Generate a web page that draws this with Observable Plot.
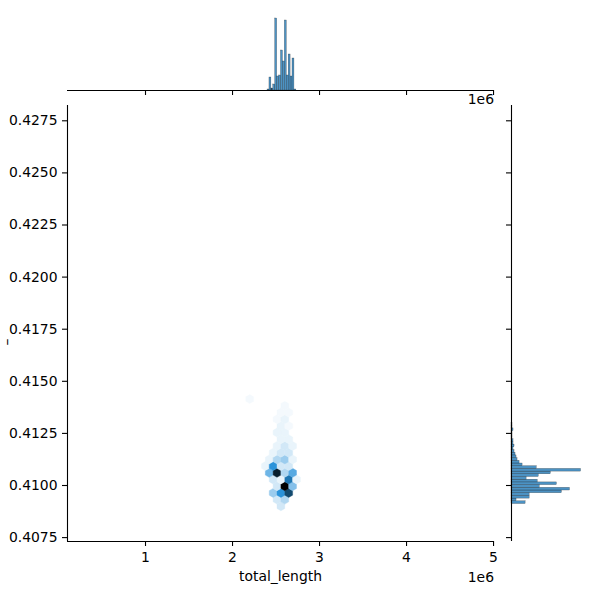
<!DOCTYPE html>
<html>
<head>
<meta charset="utf-8">
<script src="https://cdn.jsdelivr.net/npm/d3@7"></script>
<script src="https://cdn.jsdelivr.net/npm/@observablehq/plot@0.6"></script>
<style>
  html, body { margin: 0; padding: 0; background: white; }
  #chart { position: relative; width: 600px; height: 600px; font-family: "DejaVu Sans", sans-serif; color: black; }
  #chart svg { position: absolute; background: transparent; max-width: none; }
</style>
</head>
<body>
<div id="chart"></div>
<script>
// ---- axis limits and ticks ----
const xLimits = [103400, 5011000];
const yLimits = [0.407313, 0.428234];
const xTicks = [1e6, 2e6, 3e6, 4e6, 5e6];
const yTicks = [0.4075, 0.4100, 0.4125, 0.4150, 0.4175, 0.4200, 0.4225, 0.4250, 0.4275];
const xLabel = "total_length";
const yLabel = "–";
const offsetLabel = "1e6";

// ---- hexbin cells (centre x, centre y, count) ----
const hexX = [
  2556300,
  2511500, 2601100,
  2466700, 2556300, 2646000,
  2511500, 2601100, 2690800,
  2466700, 2556300, 2646000, 2735600,
  2421800, 2511500, 2601100, 2690800,
  2377000, 2466700, 2556300, 2646000,
  2421800, 2511500, 2601100, 2690800,
  2466700, 2556300, 2646000,
  2511500, 2601100, 2690800,
  2556300, 2646000,
  2511500, 2601100,
  2556300, 2646000,
  2511500, 2601100,
  2556300, 2646000,
  2601100,
  2197700
];
const hexY = [
  0.409002,
  0.409323, 0.409323,
  0.409645, 0.409645, 0.409645,
  0.409966, 0.409966, 0.409966,
  0.410288, 0.410288, 0.410288, 0.410288,
  0.410609, 0.410609, 0.410609, 0.410609,
  0.410931, 0.410931, 0.410931, 0.410931,
  0.411252, 0.411252, 0.411252, 0.411252,
  0.411574, 0.411574, 0.411574,
  0.411895, 0.411895, 0.411895,
  0.412217, 0.412217,
  0.412538, 0.412538,
  0.412860, 0.412860,
  0.413181, 0.413181,
  0.413503, 0.413503,
  0.413824,
  0.414146
];
const hexCount = [
  5,
  5, 8,
  10, 20, 30,
  5, 40, 12,
  5, 3, 24, 3,
  14, 36, 8, 16,
  3, 20, 5, 5,
  3, 8, 10, 3,
  3, 5, 5,
  3, 5, 3,
  3, 3,
  3, 3,
  3, 2,
  2, 3,
  2, 2,
  2,
  2
];

// ---- top marginal histogram (total_length) ----
const topBinStart = [2402530, 2424600, 2446670, 2468740, 2490800, 2512870, 2534940, 2557010,
                     2579080, 2601150, 2623220, 2645290, 2667360, 2689430, 2711490];
const topBinWidth = 22070;
const topCount = [1, 13, 2, 6, 72, 14, 15, 40, 29, 70, 15, 36, 14, 32, 1];

// ---- right marginal histogram (y) ----
const rightBinStart = [0.409112, 0.409242, 0.409371, 0.409501, 0.409630, 0.409760, 0.409889, 0.410019,
                       0.410148, 0.410278, 0.410408, 0.410537, 0.410667, 0.410796, 0.410926, 0.411055,
                       0.411185, 0.411314, 0.411444, 0.411574, 0.411703, 0.411833, 0.411962, 0.412092,
                       0.412221, 0.412351, 0.412480, 0.412610, 0.412740, 0.412869];
const rightBinWidth = 0.00012956;
const rightCount = [14, 5, 18, 18, 50, 58, 28, 45, 26, 15, 27, 39, 69, 25, 11, 8,
                    6, 5, 4, 3, 2, 3, 2, 2, 1, 1, 1, 2, 1, 1];

// ---- build tables ----
const hexes = hexX.map((x, i) => ({x, y: hexY[i], count: hexCount[i]}));
const topBins = topBinStart.map((s, i) => ({x1: s, x2: s + topBinWidth, count: topCount[i]}));
const rightBins = rightBinStart.map((s, i) => ({y1: s, y2: s + rightBinWidth, count: rightCount[i]}));

const maxHex = d3.max(hexCount);
const hue = 204.5, sat = 0.705;
const ramp = t => d3.hsl(hue, sat, 1 - t).formatHex();

const font = {fontFamily: "DejaVu Sans", fontSize: "13.9px", background: "transparent", color: "black", overflow: "visible"};
const histFill = "#1f77b4";

const chartEl = document.getElementById("chart");

// main joint plot
const mainPlot = Plot.plot({
  width: 510, height: 600,
  marginLeft: 67, marginRight: 16, marginTop: 105, marginBottom: 59,
  style: font,
  x: {domain: xLimits},
  y: {domain: yLimits},
  color: {type: "linear", domain: [1, maxHex], interpolate: ramp},
  marks: [
    Plot.dot(hexes, {x: "x", y: "y", fill: "count", stroke: "count", strokeWidth: 0.4, r: 3.9, symbol: "hexagon"}),
    Plot.ruleX([xLimits[0]], {stroke: "black", strokeWidth: 1.1}),
    Plot.ruleY([yLimits[0]], {stroke: "black", strokeWidth: 1.1}),
    Plot.axisX({ticks: xTicks, tickFormat: d => String(d / 1e6), tickSize: 5, tickPadding: 6, fontSize: 13.9, label: null, strokeWidth: 1.1}),
    Plot.axisY({ticks: yTicks, tickFormat: d => d.toFixed(4), tickSize: 5, tickPadding: 5, fontSize: 13.9, label: null, strokeWidth: 1.1})
  ]
});
mainPlot.style.left = "0px"; mainPlot.style.top = "0px";
chartEl.appendChild(mainPlot);

// top marginal
const topPlot = Plot.plot({
  width: 510, height: 100,
  marginLeft: 67, marginRight: 16, marginTop: 14.4, marginBottom: 10,
  style: font,
  x: {domain: xLimits},
  y: {domain: [0, 75.6], axis: null},
  marks: [
    Plot.rectY(topBins, {x1: "x1", x2: "x2", y: "count", fill: histFill, fillOpacity: 0.8, stroke: "#1a1a1a", strokeWidth: 0.35, strokeOpacity: 0.7}),
    Plot.ruleY([0], {stroke: "black", strokeWidth: 1.1}),
    Plot.axisX({ticks: xTicks, tickFormat: () => "", tickSize: 5, label: null, strokeWidth: 1.1})
  ]
});
topPlot.style.left = "0px"; topPlot.style.top = "0px";
chartEl.appendChild(topPlot);

// right marginal
const rightPlot = Plot.plot({
  width: 100, height: 600,
  marginLeft: 11, marginRight: 16, marginTop: 105, marginBottom: 59,
  style: font,
  x: {domain: [0, 72.45], axis: null},
  y: {domain: yLimits},
  marks: [
    Plot.rectX(rightBins, {y1: "y1", y2: "y2", x: "count", fill: histFill, fillOpacity: 0.8, stroke: "#1a1a1a", strokeWidth: 0.35, strokeOpacity: 0.7}),
    Plot.ruleX([0], {stroke: "black", strokeWidth: 1.1}),
    Plot.axisY({ticks: yTicks, tickFormat: () => "", tickSize: 5, label: null, strokeWidth: 1.1})
  ]
});
rightPlot.style.left = "500px"; rightPlot.style.top = "0px";
chartEl.appendChild(rightPlot);

// text labels (axis label, offset texts, y label)
const ns = "http://www.w3.org/2000/svg";
const overlay = document.createElementNS(ns, "svg");
overlay.setAttribute("width", 600);
overlay.setAttribute("height", 600);
overlay.style.left = "0px"; overlay.style.top = "0px";
overlay.style.pointerEvents = "none";
function addText(txt, x, y, anchor, transform) {
  const t = document.createElementNS(ns, "text");
  t.textContent = txt;
  t.setAttribute("font-family", "DejaVu Sans");
  t.setAttribute("font-size", "13.9");
  t.setAttribute("fill", "black");
  t.setAttribute("text-anchor", anchor);
  if (transform) t.setAttribute("transform", transform);
  else { t.setAttribute("x", x); t.setAttribute("y", y); }
  overlay.appendChild(t);
}
addText(xLabel, 280.5, 581, "middle");
addText(offsetLabel, 494, 582, "end");
addText(offsetLabel, 494, 104, "end");
addText(yLabel, 0, 0, "middle", "translate(12,342) rotate(-90)");
chartEl.appendChild(overlay);
</script>
</body>
</html>
